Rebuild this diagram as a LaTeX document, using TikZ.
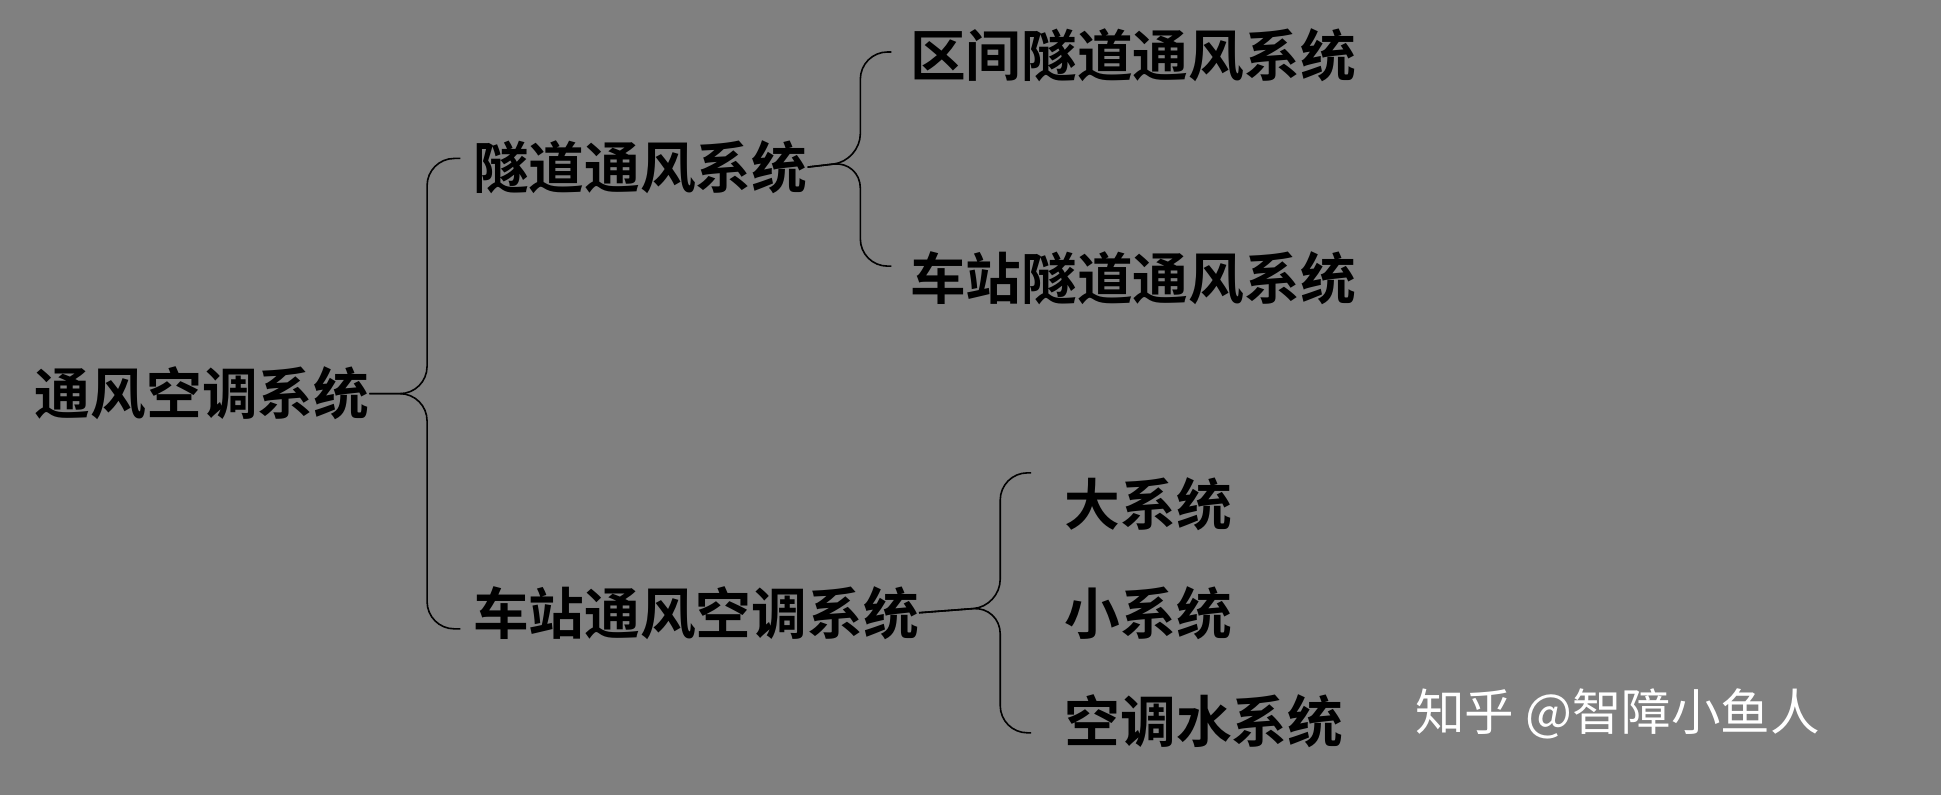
\documentclass[tikz,border=0pt]{standalone}
\usepackage{fontspec}
\newfontfamily\cjk{Noto Sans CJK SC}
\newfontfamily\cjkb{Noto Sans CJK SC Bold}
\begin{document}
\begin{tikzpicture}[x=1pt,y=1pt,
  lbl/.style={anchor=west,inner sep=0pt,font=\cjkb\fontsize{45}{50}\selectfont,text=black},
  brace/.style={draw=black,line width=1.3pt,rounded corners=22pt}]
\fill[fill={rgb,255:red,128;green,128;blue,128}] (0,0) rectangle (1568,642);
\useasboundingbox (0,0) rectangle (1568,642);
\node[lbl] (root) at (28,324) {通风空调系统};
\node[lbl] (tun) at (382,507) {隧道通风系统};
\node[lbl] (sta) at (382,147) {车站通风空调系统};
\node[lbl] (t1) at (735,597) {区间隧道通风系统};
\node[lbl] (t2) at (735,417) {车站隧道通风系统};
\node[lbl] (s1) at (860,235) {大系统};
\node[lbl] (s2) at (860,147) {小系统};
\node[lbl] (s3) at (860,59) {空调水系统};
\node[anchor=west,inner sep=0pt,font=\cjk\fontsize{40}{44}\selectfont,text=white] (wm) at (1143,65) {知乎 @智障小鱼人};
% braces
\draw[brace] (372,514) -- (345,514) -- (345,324) -- (root.east);
\draw[brace] (372,134) -- (345,134) -- (345,324) -- (root.east);
\draw[brace] (720,600) -- (695,600) -- (695,512) -- (tun.east);
\draw[brace] (720,427) -- (695,427) -- (695,512) -- (tun.east);
\draw[brace] (833,260) -- (808,260) -- (808,152) -- (sta.east);
\draw[brace] (833,50) -- (808,50) -- (808,152) -- (sta.east);
\end{tikzpicture}
\end{document}
